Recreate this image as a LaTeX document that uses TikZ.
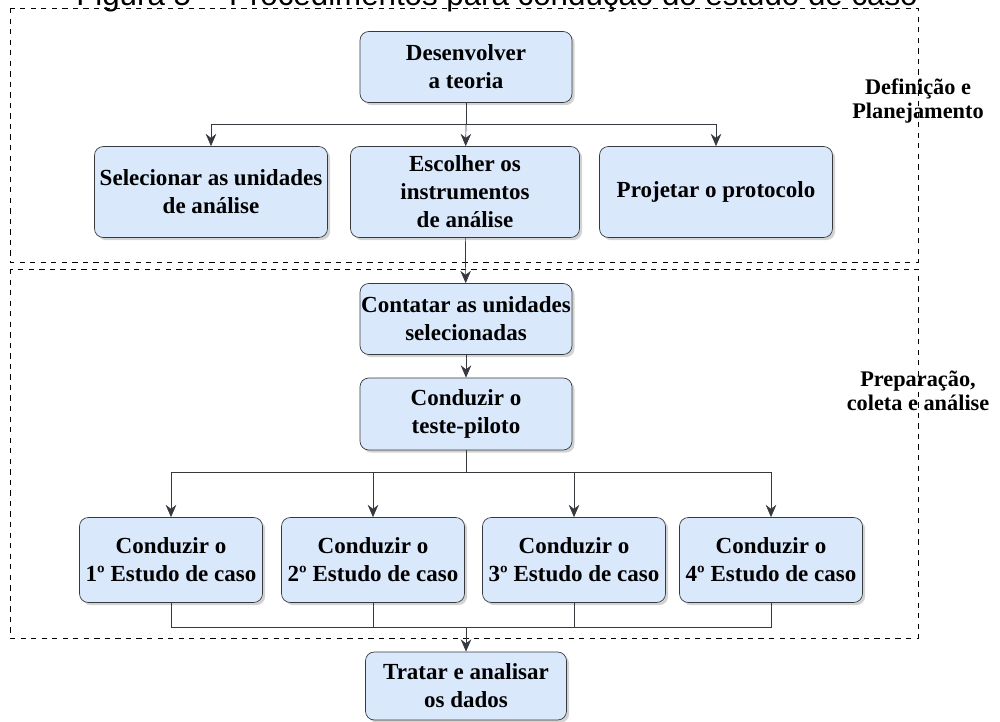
\documentclass[tikz,border=0pt]{standalone}
\usepackage{fontspec}
\setmainfont{Liberation Serif}
\newfontfamily\titlefont{Liberation Sans}
\usetikzlibrary{arrows.meta,shadows}

\definecolor{azulclaro}{HTML}{DAE8FC}
\definecolor{borda}{HTML}{36393D}

\begin{document}
\begin{tikzpicture}[x=0.02cm, y=-0.02cm,
    etapa/.style={draw=borda, fill=azulclaro, rounded corners=5pt, align=center,
        inner sep=0pt, font=\bfseries\fontsize{13.1}{15.9}\selectfont,
        drop shadow={opacity=0.35, shadow xshift=1.5pt, shadow yshift=-1.5pt}},
    fase/.style={draw, dashed, thin},
    rotulo/.style={align=center, font=\bfseries\fontsize{12.7}{14}\selectfont},
    seta/.style={-{Stealth[length=7pt,width=6pt]}, thin, draw=borda},
    linha/.style={thin, draw=borda}]
    \useasboundingbox (0,0) rectangle (1000,722);

    % title (cut at the top)
    \node [anchor=base, font=\titlefont\fontsize{17.8}{20}\selectfont] (titulo) at (497,6)
        {Figura 5 -- Procedimentos para condução do estudo de caso};

    % phases
    \draw [fase] (10,8) rectangle (918,262);
    \draw [fase] (10,269) rectangle (918,638);
    \node [rotulo] (definicao) at (918,101) {Definição e\\Planejamento};
    \node [rotulo] (preparacao) at (918,391) {Preparação,\\coleta e análise};

    % steps
    \node [etapa, minimum width=4.24cm, minimum height=1.42cm] (teoria) at (466,67) {Desenvolver\\a teoria};
    \node [etapa, minimum width=4.66cm, minimum height=1.82cm] (unidades) at (211,192) {Selecionar as unidades\\de análise};
    \node [etapa, minimum width=4.58cm, minimum height=1.82cm] (instrumentos) at (465,192) {Escolher os\\instrumentos\\de análise};
    \node [etapa, minimum width=4.66cm, minimum height=1.82cm] (protocolo) at (716,192) {Projetar o protocolo};
    \node [etapa, minimum width=4.24cm, minimum height=1.42cm] (contatar) at (466,319) {Contatar as unidades\\selecionadas};
    \node [etapa, minimum width=4.24cm, minimum height=1.44cm] (piloto) at (466,414) {Conduzir o\\teste-piloto};
    \node [etapa, minimum width=3.66cm, minimum height=1.7cm] (caso1) at (171,560) {Conduzir o\\1º Estudo de caso};
    \node [etapa, minimum width=3.66cm, minimum height=1.7cm] (caso2) at (373,560) {Conduzir o\\2º Estudo de caso};
    \node [etapa, minimum width=3.66cm, minimum height=1.7cm] (caso3) at (574,560) {Conduzir o\\3º Estudo de caso};
    \node [etapa, minimum width=3.66cm, minimum height=1.7cm] (caso4) at (771,560) {Conduzir o\\4º Estudo de caso};
    \node [etapa, minimum width=4.02cm, minimum height=1.36cm] (tratar) at (466,686) {Tratar e analisar\\os dados};

    % connectors
    \coordinate (ramo1) at (466,124);
    \coordinate (ramo2) at (466,472);
    \coordinate (junta) at (466,627);
    \draw [linha] (teoria) -- (ramo1);
    \draw [seta] (ramo1) -| (unidades);
    \draw [seta] (ramo1) -- (instrumentos);
    \draw [seta] (ramo1) -| (protocolo);
    \draw [seta] (instrumentos) -- (contatar);
    \draw [seta] (contatar) -- (piloto);
    \draw [linha] (piloto) -- (ramo2);
    \foreach \c in {caso1,caso2,caso3,caso4} {
        \draw [seta] (ramo2) -| (\c);
        \draw [linha] (\c) |- (junta);
    }
    \draw [seta] (junta) -- (tratar);
\end{tikzpicture}
\end{document}
